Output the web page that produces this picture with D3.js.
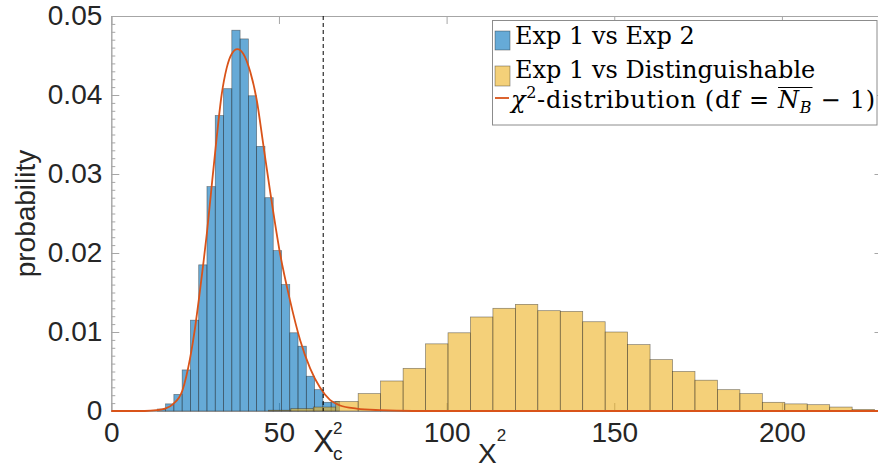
<!DOCTYPE html>
<html>
<head>
<meta charset="utf-8">
<script src="https://d3js.org/d3.v7.min.js"></script>
<style>
  html, body { margin: 0; background: #fff; overflow: hidden; }
  .tick text, .lbl { font-family: "Liberation Sans", Arial, sans-serif; fill: #262626; }
  .leg text { font-family: "DejaVu Serif", serif; font-size: 24px; fill: #000; }
</style>
</head>
<body>
<svg width="878" height="468"></svg>
<script>
// Exp 1 vs Exp 2 histogram (bin edges + probability per bin)
const blueEdges = [13.72, 16.19, 18.66, 21.13, 23.60, 26.07, 28.53, 31.00, 33.47, 35.94, 38.41, 40.88,
  43.35, 45.82, 48.29, 50.76, 53.22, 55.69, 58.16, 60.63, 63.10, 65.57, 68.04];
const blueValues = [0.00025, 0.0009, 0.0021, 0.0052, 0.0115, 0.0185, 0.0284, 0.0374, 0.0408, 0.0482, 0.0471,
  0.0399, 0.0335, 0.0270, 0.0203, 0.0160, 0.0099, 0.0082, 0.0044, 0.0027, 0.0011, 0.0012];

// Exp 1 vs Distinguishable histogram
const yellowEdges = [46.85, 53.55, 60.24, 66.94, 73.63, 80.33, 87.03, 93.72, 100.42, 107.11, 113.81, 120.51,
  127.20, 133.90, 140.59, 147.29, 153.99, 160.68, 167.38, 174.07, 180.77, 187.47, 194.16, 200.86, 207.55,
  214.25, 220.95, 227.64];
const yellowValues = [0.0001, 0.0003, 0.0005, 0.0012, 0.0022, 0.0038, 0.0054, 0.0085, 0.0099, 0.0119, 0.0130,
  0.0135, 0.0127, 0.0126, 0.0113, 0.0100, 0.0084, 0.0065, 0.0050, 0.0039, 0.0027, 0.0022, 0.0011, 0.0009,
  0.0008, 0.0005, 0.0002];

// chi^2 curve, points
const chiX = [0, 10, 13.5, 16, 18.5, 21.2, 23.5, 25, 26.2, 27.4, 28.5, 29.4, 31.4, 32.9, 34.4, 35.9, 37.6,
  39.4, 41.4, 43.4, 45.3, 47.3, 50.3, 53.3, 56.3, 59.3, 62.2, 65.2, 68.2, 73.2, 80.1, 90, 230];
const chiY = [0, 0, 0.0001, 0.0003, 0.0009, 0.0026, 0.0067, 0.0106, 0.0144, 0.0185, 0.0225, 0.0262, 0.0345,
  0.0400, 0.0434, 0.0452, 0.0458, 0.0452, 0.0430, 0.0393, 0.0338, 0.0280, 0.0200, 0.0140, 0.0090, 0.0054,
  0.0030, 0.0014, 0.0007, 0.0003, 0.0001, 0, 0];

const chiCritical = 63.2;
const xTicks = [0, 50, 100, 150, 200];
const yTicks = [0, 0.01, 0.02, 0.03, 0.04, 0.05];
const legendLabels = ["Exp 1 vs Exp 2", "Exp 1 vs Distinguishable"];

const svg = d3.select("svg");
const x = d3.scaleLinear().domain([0, 230]).range([111.3, 882.5]);
const y = d3.scaleLinear().domain([0, 0.05]).range([411, 16]);

const blueFill = "rgba(0,114,189,0.6)", yellowFill = "rgba(237,177,32,0.6)";
const orange = "#d95319", axisGray = "#a6a6a6";

// axes first (bars are semi transparent on top)
function styleAxis(g) {
  g.selectAll("path.domain").attr("stroke", axisGray);
  g.selectAll(".tick line").attr("stroke", axisGray);
}
svg.append("g").attr("transform", `translate(0,${y(0)})`)
  .call(d3.axisBottom(x).tickValues(xTicks).tickSize(-8).tickSizeOuter(0).tickPadding(11))
  .call(styleAxis)
  .selectAll("text").attr("font-size", 28);
svg.append("g").attr("transform", `translate(0,${y(0.05)})`)
  .call(d3.axisTop(x).tickValues(xTicks).tickSize(-8).tickSizeOuter(0).tickFormat(""))
  .call(styleAxis);
svg.append("g").attr("transform", `translate(${x(0)},0)`)
  .call(d3.axisLeft(y).tickValues(d3.range(0, 0.0505, 0.001)).tickSize(-4).tickSizeOuter(0).tickFormat(""))
  .call(styleAxis);
svg.append("g").attr("transform", `translate(${x(0)},0)`)
  .call(d3.axisLeft(y).tickValues(yTicks).tickSize(-8).tickSizeOuter(0).tickPadding(9)
    .tickFormat(d => d === 0 ? "0" : d3.format(".2f")(d)))
  .call(styleAxis)
  .selectAll("text").attr("font-size", 28);
svg.append("g").attr("transform", `translate(${x(230)},0)`)
  .call(d3.axisRight(y).tickValues(yTicks).tickSize(-8).tickSizeOuter(0).tickFormat(""))
  .call(styleAxis);

// histograms
function bars(edges, values, fill) {
  svg.append("g").selectAll("rect")
    .data(values)
    .join("rect")
    .attr("x", (d, i) => x(edges[i]))
    .attr("width", (d, i) => x(edges[i + 1]) - x(edges[i]))
    .attr("y", d => y(d))
    .attr("height", d => y(0) - y(d))
    .attr("fill", fill)
    .attr("stroke", "#262626")
    .attr("stroke-opacity", 0.55)
    .attr("stroke-width", 0.7);
}
bars(blueEdges, blueValues, blueFill);
bars(yellowEdges, yellowValues, yellowFill);

// chi^2 pdf
const pts = chiX.map((v, i) => [v, chiY[i]]);
svg.append("path")
  .datum(pts)
  .attr("fill", "none")
  .attr("stroke", orange)
  .attr("stroke-width", 1.8)
  .attr("d", d3.line().x(d => x(d[0])).y(d => y(d[1])).curve(d3.curveMonotoneX));

// critical value
svg.append("line")
  .attr("x1", x(chiCritical)).attr("x2", x(chiCritical))
  .attr("y1", y(0.05)).attr("y2", y(0))
  .attr("stroke", "#000").attr("stroke-width", 1)
  .attr("stroke-dasharray", "4,3");

// chi^2_c label under the axis
const cx = x(chiCritical);
const cl = svg.append("text").attr("class", "lbl").attr("font-size", 31)
  .attr("x", cx - 10).attr("y", 452).text("Χ");
const clw = cl.node().getComputedTextLength();
svg.append("text").attr("class", "lbl").attr("font-size", 17)
  .attr("x", cx - 10 + clw - 1).attr("y", 434).text("2");
svg.append("text").attr("class", "lbl").attr("font-size", 19)
  .attr("x", cx - 10 + clw - 1).attr("y", 460).text("c");

// x label
const xl = svg.append("text").attr("class", "lbl").attr("font-size", 28)
  .attr("x", 478).attr("y", 463).text("Χ");
svg.append("text").attr("class", "lbl").attr("font-size", 17)
  .attr("x", 478 + xl.node().getComputedTextLength()).attr("y", 441).text("2");

// y label
svg.append("text").attr("class", "lbl").attr("font-size", 28)
  .attr("transform", `translate(35,${(y(0) + y(0.05)) / 2}) rotate(-90)`)
  .attr("text-anchor", "middle").text("probability");

// legend
const leg = svg.append("g").attr("class", "leg");
leg.append("rect").attr("x", 492.5).attr("y", 20.5).attr("width", 384.5).attr("height", 104.5)
  .attr("fill", "#fff").attr("stroke", "#8c8c8c").attr("stroke-width", 1);
leg.append("rect").attr("x", 495).attr("y", 31).attr("width", 15).attr("height", 19)
  .attr("fill", blueFill).attr("stroke", "#262626").attr("stroke-opacity", 0.55).attr("stroke-width", 0.7);
leg.append("rect").attr("x", 495).attr("y", 66).attr("width", 15).attr("height", 20)
  .attr("fill", yellowFill).attr("stroke", "#262626").attr("stroke-opacity", 0.55).attr("stroke-width", 0.7);
leg.append("line").attr("x1", 495).attr("x2", 509).attr("y1", 98).attr("y2", 98)
  .attr("stroke", orange).attr("stroke-width", 1.8);
leg.append("text").attr("x", 515).attr("y", 44).text(legendLabels[0]);
leg.append("text").attr("x", 515).attr("y", 78).text(legendLabels[1]);

const t3 = leg.append("text").attr("x", 511).attr("y", 108);
t3.append("tspan").attr("font-style", "italic").text("χ");
t3.append("tspan").attr("font-size", "16px").attr("dy", -10).text("2");
const mid = "-distribution (df = ";
t3.append("tspan").attr("dy", 10).text(mid);
t3.append("tspan").attr("font-style", "italic").text("N");
t3.append("tspan").attr("font-style", "italic").attr("font-size", "16px").attr("dy", 5).text("B");
t3.append("tspan").attr("dy", -5).text(" − 1)");
t3.attr("textLength", 364).attr("lengthAdjust", "spacing");
// overline over N_B
const node = t3.node();
const iN = 2 + mid.length;
const ox1 = node.getStartPositionOfChar(iN).x;
const ox2 = node.getEndPositionOfChar(iN + 1).x;
leg.append("line").attr("x1", ox1).attr("x2", ox2 + 1).attr("y1", 87.5).attr("y2", 87.5)
  .attr("stroke", "#000").attr("stroke-width", 1.2);
</script>
</body>
</html>
